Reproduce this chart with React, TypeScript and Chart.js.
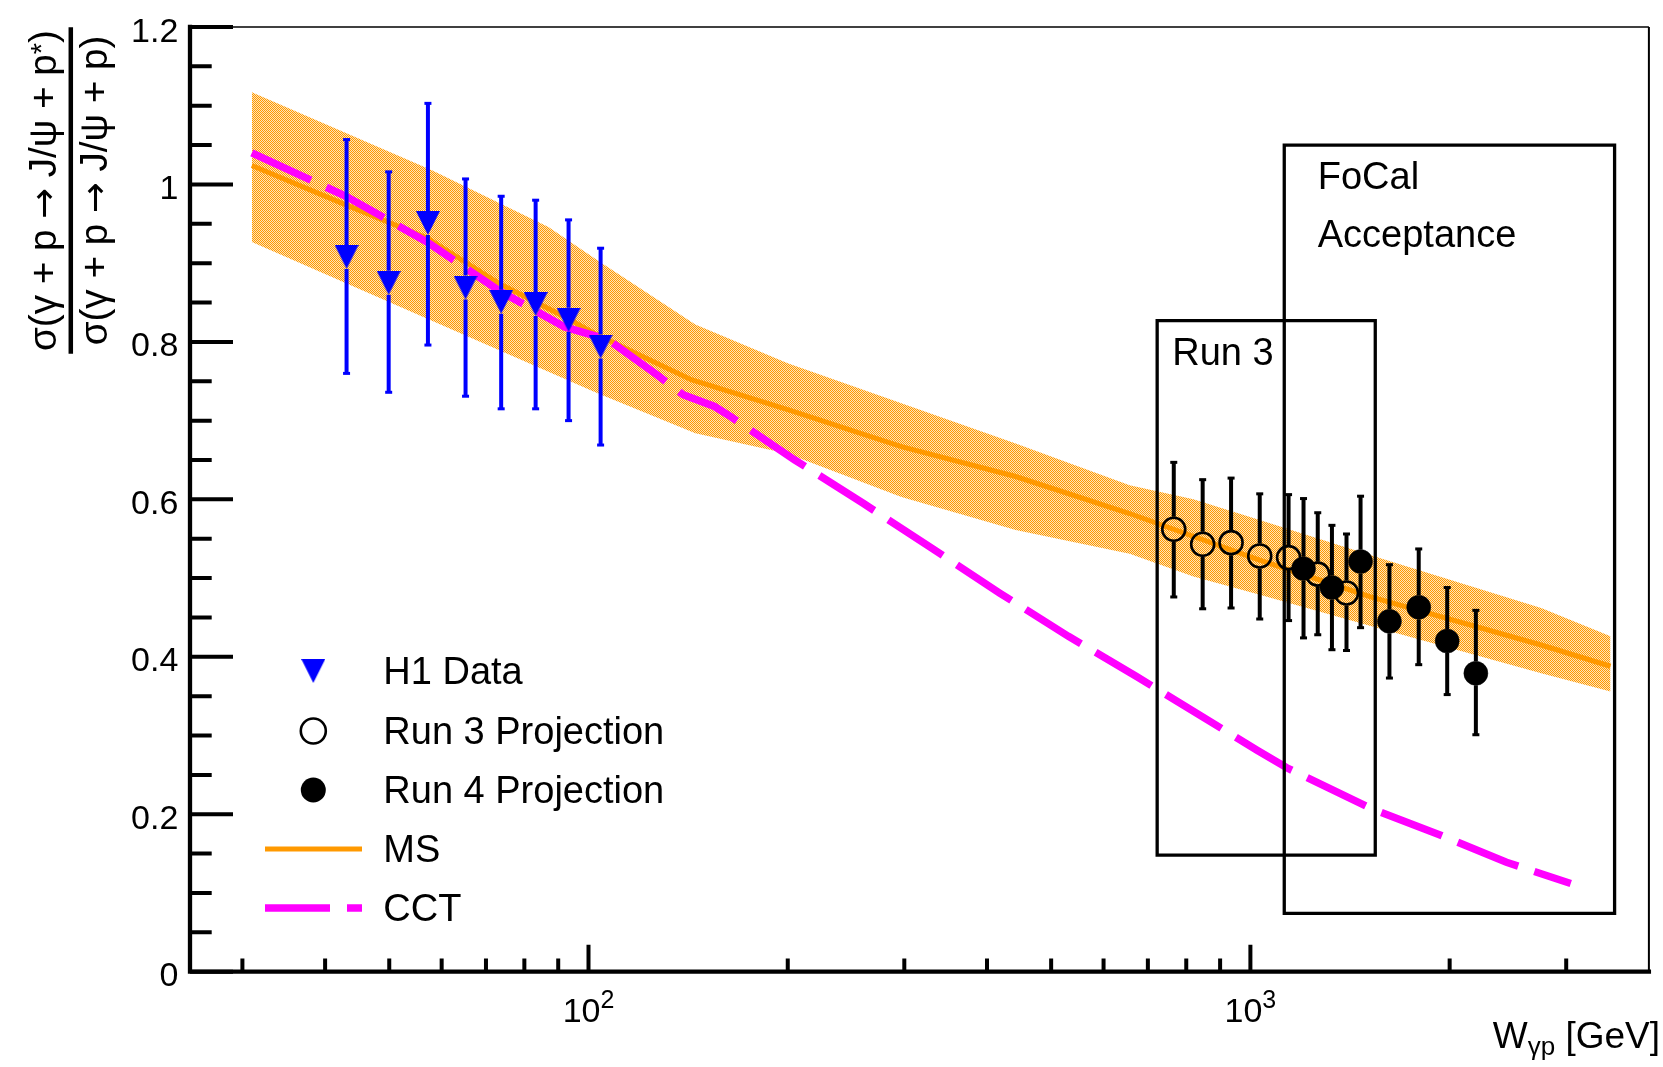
import React, { useEffect, useRef } from 'react';
import { Chart, registerables } from 'chart.js';
Chart.register(...registerables);

const FONT = '"Liberation Sans", Arial, Helvetica, sans-serif';
const SYMFONT = '"DejaVu Sans", "Liberation Sans", sans-serif';
const ORANGE = '#ff9900';
const ORANGE_LIGHT = 'rgba(255,153,0,0.28)';
const MAGENTA = '#ff00ff';
const BLUE = '#0000ff';

// ---- H1 data ----
const h1W = [43.1, 49.9, 57.2, 65.2, 73.8, 83.2, 93.3, 104.3];
const h1R = [0.908, 0.875, 0.951, 0.869, 0.851, 0.848, 0.828, 0.794];
const h1Hi = [1.057, 1.016, 1.103, 1.007, 0.985, 0.98, 0.955, 0.919];
const h1Lo = [0.76, 0.736, 0.796, 0.731, 0.715, 0.715, 0.7, 0.669];

// ---- Run 3 projection ----
const run3W = [766, 847, 935, 1033, 1142, 1264, 1397];
const run3R = [0.562, 0.543, 0.545, 0.528, 0.526, 0.505, 0.481];
const run3Hi = [0.647, 0.625, 0.627, 0.607, 0.606, 0.583, 0.556];
const run3Lo = [0.476, 0.461, 0.462, 0.448, 0.446, 0.428, 0.408];

// ---- Run 4 projection ----
const run4W = [1203, 1328, 1467, 1622, 1796, 1983, 2191];
const run4R = [0.512, 0.488, 0.521, 0.445, 0.463, 0.42, 0.379];
const run4Hi = [0.601, 0.567, 0.604, 0.517, 0.537, 0.488, 0.459];
const run4Lo = [0.424, 0.409, 0.437, 0.373, 0.39, 0.352, 0.301];

// ---- MS model ----
const msW = [31, 43, 57, 73, 92, 103, 143, 200, 297, 442, 657, 1030, 1520, 2750, 3500];
const msR = [1.024, 0.974, 0.932, 0.875, 0.832, 0.809, 0.752, 0.714, 0.667, 0.629, 0.582, 0.523, 0.476, 0.415, 0.388];

// ---- MS uncertainty band ----
const bandW = [31, 58, 87, 103, 145, 200, 297, 442, 657, 820, 1030, 1520, 2750, 3500];
const bandHi = [1.117, 1.018, 0.946, 0.904, 0.822, 0.773, 0.722, 0.671, 0.618, 0.6, 0.574, 0.529, 0.462, 0.426];
const bandLo = [0.927, 0.827, 0.762, 0.735, 0.684, 0.658, 0.603, 0.561, 0.531, 0.502, 0.479, 0.439, 0.379, 0.356];

// ---- CCT model ----
const cctW = [31, 43, 57, 73, 92, 107, 127, 139, 155, 164, 205, 260, 330, 418, 531, 673, 723, 1025, 1135, 1525, 1930, 2437, 3048];
const cctR = [1.04, 0.985, 0.927, 0.866, 0.819, 0.803, 0.758, 0.733, 0.718, 0.705, 0.65, 0.595, 0.538, 0.481, 0.426, 0.375, 0.359, 0.281, 0.259, 0.207, 0.174, 0.139, 0.112];

// ---- acceptance boxes ----
const run3BoxX = [723, 1544];
const run3BoxY = [0.148, 0.827];
const focalBoxX = [1125, 3550];
const focalBoxY = [0.074, 1.05];

// ---- annotations (data coords) ----
const annotTexts = ['Run 3', 'FoCal', 'Acceptance'];
const annotX = [762, 1264, 1264];
const annotY = [0.771, 0.994, 0.921];

// ---- axes ----
const xMin = 25;
const xMax = 4000;
const yMin = 0;
const yMax = 1.2;
const yMajorTicks = [0, 0.2, 0.4, 0.6, 0.8, 1, 1.2];
const yTickLabels = ['0', '0.2', '0.4', '0.6', '0.8', '1', '1.2'];
const yMinorTicks = [0.05, 0.1, 0.15, 0.25, 0.3, 0.35, 0.45, 0.5, 0.55, 0.65, 0.7, 0.75, 0.85, 0.9, 0.95, 1.05, 1.1, 1.15];
const xMajorTicks = [100, 1000];
const xMajorExp = ['2', '3'];
const xMinorTicks = [30, 40, 50, 60, 70, 80, 90, 200, 300, 400, 500, 600, 700, 800, 900, 2000, 3000];

const legendLabels = ['H1 Data', 'Run 3 Projection', 'Run 4 Projection', 'MS', 'CCT'];

const pts = (xs: number[], ys: number[]) => xs.map((x, i) => ({ x, y: ys[i] }));
const boxPts = (bx: number[], by: number[]) =>
  pts([bx[0], bx[1], bx[1], bx[0], bx[0]], [by[1], by[1], by[0], by[0], by[1]]);

type Part = { t: string; s: number; dy: number; f?: string };
function drawParts(ctx: CanvasRenderingContext2D, parts: Part[], x: number, y: number, align: string) {
  let total = 0;
  const ws: number[] = [];
  for (const p of parts) {
    ctx.font = `${p.s}px ${p.f || FONT}`;
    const w = ctx.measureText(p.t).width;
    ws.push(w);
    total += w;
  }
  let cx = align === 'left' ? x : align === 'center' ? x - total / 2 : x - total;
  ctx.textAlign = 'left';
  ctx.textBaseline = 'alphabetic';
  parts.forEach((p, i) => {
    ctx.font = `${p.s}px ${p.f || FONT}`;
    ctx.fillText(p.t, cx, y + p.dy);
    cx += ws[i];
  });
  return total;
}
function measureParts(ctx: CanvasRenderingContext2D, parts: Part[]) {
  let total = 0;
  for (const p of parts) {
    ctx.font = `${p.s}px ${p.f || FONT}`;
    total += ctx.measureText(p.t).width;
  }
  return total;
}

const errorBarPlugin = {
  id: 'errorBars',
  afterDatasetDraw(chart: any, args: any) {
    const ds: any = chart.data.datasets[args.index];
    if (!ds.errLow) return;
    const { ctx, chartArea: a } = chart;
    const xs = chart.scales.x;
    const ys = chart.scales.y;
    ctx.save();
    ctx.beginPath();
    ctx.rect(a.left, a.top, a.right - a.left, a.bottom - a.top);
    ctx.clip();
    ctx.strokeStyle = ds.errColor;
    ctx.fillStyle = ds.errColor;
    ctx.lineWidth = 4;
    ctx.lineCap = 'butt';
    ds.data.forEach((p: any, i: number) => {
      const px = xs.getPixelForValue(p.x);
      const py = ys.getPixelForValue(p.y);
      const hi = ys.getPixelForValue(ds.errHigh[i]);
      const lo = ys.getPixelForValue(ds.errLow[i]);
      const g = ds.errGap;
      ctx.beginPath();
      if (hi < py - g) {
        ctx.moveTo(px, hi);
        ctx.lineTo(px, py - g);
      }
      if (lo > py + g) {
        ctx.moveTo(px, py + g);
        ctx.lineTo(px, lo);
      }
      ctx.stroke();
      ctx.fillRect(px - 3.5, hi - 1.5, 7, 3);
      ctx.fillRect(px - 3.5, lo - 1.5, 7, 3);
    });
    ctx.restore();
  },
};

const axesPlugin = {
  id: 'rootAxes',
  afterDraw(chart: any) {
    const { ctx, chartArea: a } = chart;
    const xs = chart.scales.x;
    const ys = chart.scales.y;
    ctx.save();
    ctx.strokeStyle = '#000';
    ctx.fillStyle = '#000';
    // thin frame
    ctx.lineWidth = 1.5;
    ctx.beginPath();
    ctx.moveTo(a.left, a.top);
    ctx.lineTo(a.right, a.top);
    ctx.stroke();
    ctx.lineWidth = 2;
    ctx.beginPath();
    ctx.moveTo(a.right, a.top);
    ctx.lineTo(a.right, a.bottom);
    ctx.stroke();
    // main axes
    ctx.lineWidth = 4.3;
    ctx.lineCap = 'square';
    ctx.beginPath();
    ctx.moveTo(a.left, a.top);
    ctx.lineTo(a.left, a.bottom);
    ctx.lineTo(a.right, a.bottom);
    ctx.stroke();
    ctx.lineCap = 'butt';
    ctx.lineWidth = 4;
    // y ticks
    ctx.beginPath();
    yMajorTicks.forEach((v) => {
      const py = ys.getPixelForValue(v);
      ctx.moveTo(a.left, py);
      ctx.lineTo(a.left + 43, py);
    });
    yMinorTicks.forEach((v) => {
      const py = ys.getPixelForValue(v);
      ctx.moveTo(a.left, py);
      ctx.lineTo(a.left + 21.7, py);
    });
    // x ticks
    xMajorTicks.forEach((v) => {
      const px = xs.getPixelForValue(v);
      ctx.moveTo(px, a.bottom);
      ctx.lineTo(px, a.bottom - 27);
    });
    xMinorTicks.forEach((v) => {
      const px = xs.getPixelForValue(v);
      ctx.moveTo(px, a.bottom);
      ctx.lineTo(px, a.bottom - 13.3);
    });
    ctx.stroke();
    // y labels
    ctx.font = `34px ${FONT}`;
    ctx.textAlign = 'right';
    ctx.textBaseline = 'alphabetic';
    yMajorTicks.forEach((v, i) => {
      ctx.fillText(yTickLabels[i], a.left - 11.7, ys.getPixelForValue(v) + 14.5);
    });
    // x labels
    xMajorTicks.forEach((v, i) => {
      const px = xs.getPixelForValue(v);
      drawParts(ctx, [{ t: '10', s: 34, dy: 0 }, { t: xMajorExp[i], s: 25, dy: -14 }], px, 1022, 'center');
    });
    // x title
    drawParts(
      ctx,
      [
        { t: 'W', s: 37, dy: 0 },
        { t: 'γp', s: 26, dy: 7 },
        { t: ' [GeV]', s: 37, dy: 0 },
      ],
      1660,
      1048,
      'right'
    );
    // y title (rotated fraction)
    ctx.save();
    ctx.translate(0, 190.5);
    ctx.rotate(-Math.PI / 2);
    const numParts = (s: number): Part[] => [
      { t: 'σ(γ + p ', s, dy: 0 },
      { t: '→', s: s * 0.95, dy: 0, f: SYMFONT },
      { t: ' J/ψ + p', s, dy: 0 },
      { t: '*', s: s * 0.75, dy: -s * 0.14 },
      { t: ')', s, dy: 0 },
    ];
    const denParts = (s: number): Part[] => [
      { t: 'σ(γ + p ', s, dy: 0 },
      { t: '→', s: s * 0.95, dy: 0, f: SYMFONT },
      { t: ' J/ψ + p)', s, dy: 0 },
    ];
    const size = (38 * 321) / measureParts(ctx, numParts(38));
    drawParts(ctx, numParts(size), 0, 56, 'center');
    drawParts(ctx, denParts(size), 0, 107, 'center');
    ctx.lineWidth = 4.5;
    ctx.beginPath();
    ctx.moveTo(-163.3, 70.8);
    ctx.lineTo(163.3, 70.8);
    ctx.stroke();
    ctx.restore();
    ctx.restore();
  },
};

const annotPlugin = {
  id: 'annot',
  afterDatasetsDraw(chart: any) {
    const { ctx } = chart;
    const xs = chart.scales.x;
    const ys = chart.scales.y;
    ctx.save();
    ctx.fillStyle = '#000';
    ctx.font = `38px ${FONT}`;
    ctx.textAlign = 'left';
    ctx.textBaseline = 'alphabetic';
    annotTexts.forEach((t, i) => {
      ctx.fillText(t, xs.getPixelForValue(annotX[i]), ys.getPixelForValue(annotY[i]));
    });
    ctx.restore();
  },
};

const legendPlugin = {
  id: 'rootLegend',
  afterDraw(chart: any) {
    const { ctx } = chart;
    const ds: any[] = chart.data.datasets.filter((d: any) => d.legendRow !== undefined);
    const rows = [671, 731, 790, 849, 908];
    ctx.save();
    ds.forEach((d) => {
      const yc = rows[d.legendRow];
      const mx = 313.3;
      if (d.legendKind === 'image') {
        const img = d.pointStyle;
        ctx.drawImage(img, mx - img.width / 2, yc - img.height / 2);
      } else if (d.legendKind === 'open') {
        ctx.beginPath();
        ctx.arc(mx, yc, 12.5, 0, Math.PI * 2);
        ctx.lineWidth = d.pointBorderWidth;
        ctx.strokeStyle = d.pointBorderColor;
        ctx.stroke();
      } else if (d.legendKind === 'filled') {
        ctx.beginPath();
        ctx.arc(mx, yc, 12.5, 0, Math.PI * 2);
        ctx.fillStyle = d.pointBackgroundColor;
        ctx.fill();
      } else if (d.legendKind === 'line') {
        ctx.beginPath();
        ctx.setLineDash(d.borderDash || []);
        ctx.lineDashOffset = 0;
        ctx.lineWidth = d.borderWidth;
        ctx.strokeStyle = d.borderColor;
        ctx.lineCap = 'butt';
        ctx.moveTo(265, yc);
        ctx.lineTo(362, yc);
        ctx.stroke();
        ctx.setLineDash([]);
      }
      ctx.fillStyle = '#000';
      ctx.font = `38px ${FONT}`;
      ctx.textAlign = 'left';
      ctx.textBaseline = 'alphabetic';
      ctx.fillText(d.label, 383.3, yc + 12.5);
    });
    ctx.restore();
  },
};

export default function App() {
  const ref = useRef<HTMLCanvasElement>(null);
  useEffect(() => {
    const canvas = ref.current as HTMLCanvasElement;
    const c2d = canvas.getContext('2d') as CanvasRenderingContext2D;

    // dotted fill pattern for band
    const pc = document.createElement('canvas');
    pc.width = 2;
    pc.height = 2;
    const pctx = pc.getContext('2d') as CanvasRenderingContext2D;
    pctx.fillStyle = ORANGE_LIGHT;
    pctx.fillRect(0, 0, 2, 2);
    pctx.clearRect(0, 0, 1, 1);
    pctx.clearRect(1, 1, 1, 1);
    pctx.fillStyle = ORANGE;
    pctx.fillRect(0, 0, 1, 1);
    pctx.fillRect(1, 1, 1, 1);
    const pattern = c2d.createPattern(pc, 'repeat');

    // downward triangle marker
    const tri = document.createElement('canvas');
    tri.width = 24;
    tri.height = 24;
    const tctx = tri.getContext('2d') as CanvasRenderingContext2D;
    tctx.fillStyle = BLUE;
    tctx.beginPath();
    tctx.moveTo(0, 0);
    tctx.lineTo(24, 0);
    tctx.lineTo(12, 24);
    tctx.closePath();
    tctx.fill();

    const lineBase = { showLine: true, pointRadius: 0, tension: 0, fill: false };

    const chart = new Chart(canvas, {
      type: 'line',
      data: {
        datasets: [
          {
            label: 'MS band',
            data: pts(bandW, bandHi),
            ...lineBase,
            borderWidth: 0,
            borderColor: 'rgba(0,0,0,0)',
            backgroundColor: pattern,
            fill: '+1',
            order: 10,
          },
          {
            label: 'MS band low',
            data: pts(bandW, bandLo),
            ...lineBase,
            borderWidth: 0,
            borderColor: 'rgba(0,0,0,0)',
            order: 11,
          },
          {
            label: legendLabels[3],
            data: pts(msW, msR),
            ...lineBase,
            borderColor: ORANGE,
            borderWidth: 5,
            order: 8,
            legendRow: 3,
            legendKind: 'line',
          },
          {
            label: legendLabels[4],
            data: pts(cctW, cctR),
            ...lineBase,
            borderColor: MAGENTA,
            borderWidth: 7.5,
            borderDash: [65, 17],
            borderCapStyle: 'butt',
            order: 7,
            legendRow: 4,
            legendKind: 'line',
          },
          {
            label: 'Run 3 box',
            data: boxPts(run3BoxX, run3BoxY),
            ...lineBase,
            borderColor: '#000',
            borderWidth: 3.3,
            borderJoinStyle: 'miter',
            borderCapStyle: 'square',
            order: 5,
          },
          {
            label: 'FoCal box',
            data: boxPts(focalBoxX, focalBoxY),
            ...lineBase,
            borderColor: '#000',
            borderWidth: 3.3,
            borderJoinStyle: 'miter',
            borderCapStyle: 'square',
            order: 5,
          },
          {
            label: legendLabels[0],
            data: pts(h1W, h1R),
            showLine: false,
            pointStyle: tri,
            pointRadius: 12,
            errLow: h1Lo,
            errHigh: h1Hi,
            errColor: BLUE,
            errGap: 12,
            order: 3,
            legendRow: 0,
            legendKind: 'image',
          },
          {
            label: legendLabels[1],
            data: pts(run3W, run3R),
            showLine: false,
            pointStyle: 'circle',
            pointRadius: 11.5,
            pointBorderWidth: 2.6,
            pointBorderColor: '#000',
            pointBackgroundColor: 'rgba(0,0,0,0)',
            errLow: run3Lo,
            errHigh: run3Hi,
            errColor: '#000',
            errGap: 12.5,
            order: 2,
            legendRow: 1,
            legendKind: 'open',
          },
          {
            label: legendLabels[2],
            data: pts(run4W, run4R),
            showLine: false,
            pointStyle: 'circle',
            pointRadius: 12,
            pointBorderWidth: 0.5,
            pointBorderColor: '#000',
            pointBackgroundColor: '#000',
            errLow: run4Lo,
            errHigh: run4Hi,
            errColor: '#000',
            errGap: 12,
            order: 1,
            legendRow: 2,
            legendKind: 'filled',
          },
        ] as any,
      },
      options: {
        animation: false,
        responsive: false,
        devicePixelRatio: 1,
        events: [],
        layout: { padding: { left: 190, right: 4.7, top: 27, bottom: 95.3 } },
        scales: {
          x: { type: 'logarithmic', min: xMin, max: xMax, display: false },
          y: { type: 'linear', min: yMin, max: yMax, display: false },
        },
        plugins: {
          legend: { display: false },
          tooltip: { enabled: false },
        },
      } as any,
      plugins: [errorBarPlugin, annotPlugin, axesPlugin, legendPlugin] as any,
    });
    return () => chart.destroy();
  }, []);
  return (
    <div style={{ position: 'absolute', left: 0, top: 0, width: 1663, height: 1067, background: '#fff' }}>
      <canvas ref={ref} width={1663} height={1067} style={{ display: 'block' }} />
    </div>
  );
}
